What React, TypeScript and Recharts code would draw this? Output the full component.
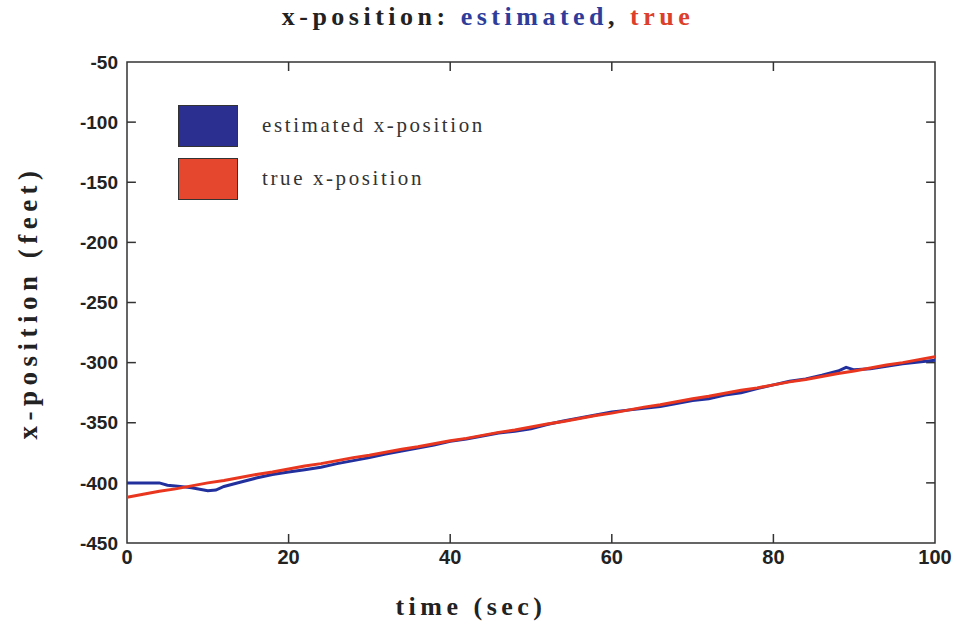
import React from 'react';
import { LineChart, Line, XAxis, YAxis, ReferenceArea, ReferenceLine } from 'recharts';

const estTimes = [0, 2, 4, 5, 6, 8, 10, 11, 12, 14, 16, 18, 20, 22, 24, 26, 28, 30, 32, 34, 36, 38, 40, 42, 44, 46, 48, 50, 52, 54, 56, 58, 60, 62, 64, 66, 68, 70, 72, 74, 76, 78, 80, 82, 84, 86, 88, 89, 90, 92, 94, 96, 98, 100];
const estValues = [-400, -400, -400, -402, -402.5, -404, -406.5, -406, -403, -399.5, -396, -393, -391, -389, -387, -384, -381.5, -379, -376, -373.5, -371, -368.5, -365.5, -363.5, -361, -358.5, -357, -355, -351.5, -348.5, -346, -343.5, -341, -339.5, -338, -336.5, -334, -331.5, -330, -327, -325, -321.5, -318.5, -315.5, -313.5, -310.5, -307, -304, -306, -305, -303, -301, -299.5, -298];

const trueTimes = [0, 2, 4, 6, 8, 10, 12, 14, 16, 18, 20, 22, 24, 26, 28, 30, 32, 34, 36, 38, 40, 42, 44, 46, 48, 50, 52, 54, 56, 58, 60, 62, 64, 66, 68, 70, 72, 74, 76, 78, 80, 82, 84, 86, 88, 90, 92, 94, 96, 98, 100];
const trueValues = [-412, -409.5, -407, -405, -402.5, -400, -398, -395.5, -393, -391, -388.5, -386, -384, -381.5, -379, -377, -374.5, -372, -370, -367.5, -365, -363, -360.5, -358, -356, -353.5, -351, -349, -346.5, -344, -342, -339.5, -337, -335, -332.5, -330, -328, -325.5, -323, -321, -318.5, -316, -314, -311.5, -309, -307, -304.5, -302, -300, -297.5, -295];

const xTicks = [0, 20, 40, 60, 80, 100];
const yTicks = [-450, -400, -350, -300, -250, -200, -150, -100, -50];

const legendItems = [
  { color: '#2b3090', label: 'estimated x-position' },
  { color: '#e4462e', label: 'true x-position' },
];

const estData = estTimes.map((t, i) => ({ t, v: estValues[i] }));
const trueData = trueTimes.map((t, i) => ({ t, v: trueValues[i] }));

const BLUE = '#22309e';
const RED = '#e8361f';
const AXIS = '#333333';

const serif = '"Liberation Serif", "DejaVu Serif", serif';
const sans = '"Liberation Sans", Arial, sans-serif';

const YLabel = (props: any) => {
  const vb = props.viewBox || {};
  const cx = 28;
  const cy = (vb.y ?? 62) + (vb.height ?? 481) / 2;
  return (
    <text x={cx} y={cy} transform={`rotate(-90 ${cx} ${cy})`} textAnchor="middle" dominantBaseline="central"
      style={{ fontFamily: serif, fontSize: 27, fontWeight: 700, fill: '#222', letterSpacing: 5.5 }}>
      x-position (feet)
    </text>
  );
};

const XLabel = (props: any) => {
  const vb = props.viewBox || {};
  const cx = 471;
  const cy = (vb.y ?? 543) + 63;
  return (
    <text x={cx} y={cy} textAnchor="middle" dominantBaseline="central"
      style={{ fontFamily: serif, fontSize: 26, fontWeight: 700, fill: '#222', letterSpacing: 4.5 }}>
      time (sec)
    </text>
  );
};

export default function App() {
  return (
    <div style={{ position: 'absolute', left: 0, top: 0, width: 956, height: 625, background: '#fff' }}>
      <div style={{ position: 'absolute', left: 0, width: 976, top: 2, textAlign: 'center', fontFamily: serif, fontSize: 26, fontWeight: 700, letterSpacing: 4.5, color: '#222', zIndex: 2 }}>
        x-position: <span style={{ color: '#2e3c9a' }}>estimated</span>, <span style={{ color: '#dc3f2a' }}>true</span>
      </div>
      <div style={{ position: 'absolute', left: 178, top: 99, fontFamily: serif, fontSize: 21, color: '#333', letterSpacing: 2.6, zIndex: 2 }}>
        {legendItems.map((e, i) => (
          <div key={i} style={{ display: 'flex', alignItems: 'center', height: 53 }}>
            <div style={{ width: 60, height: 42, background: e.color, border: '1px solid #333', boxSizing: 'border-box' }} />
            <span style={{ marginLeft: 24 }}>{e.label}</span>
          </div>
        ))}
      </div>
      <LineChart width={956} height={625} margin={{ top: 62, right: 21, bottom: 0, left: 0 }}>
        <XAxis dataKey="t" type="number" domain={[0, 100]} ticks={xTicks} allowDataOverflow
          height={82} axisLine={false} tickLine={false} tickSize={0} tickMargin={7}
          tick={{ fontFamily: sans, fontSize: 20, fontWeight: 700, fill: '#222' }}
          label={<XLabel />} />
        <YAxis type="number" domain={[-450, -50]} ticks={yTicks} allowDataOverflow
          width={127} axisLine={false} tickLine={false} tickSize={0} tickMargin={9}
          tick={{ fontFamily: sans, fontSize: 19, fontWeight: 700, fill: '#222' }}
          label={<YLabel />} />
        <ReferenceArea x1={0} x2={100} y1={-450} y2={-50} fill="none" stroke={AXIS} strokeWidth={1.5} fillOpacity={0} strokeOpacity={1} />
        {xTicks.slice(1, -1).map((t) => (
          <ReferenceLine key={`b${t}`} segment={[{ x: t, y: -450 }, { x: t, y: -442.5 }]} stroke={AXIS} strokeWidth={1.5} />
        ))}
        {xTicks.slice(1, -1).map((t) => (
          <ReferenceLine key={`t${t}`} segment={[{ x: t, y: -50 }, { x: t, y: -57.5 }]} stroke={AXIS} strokeWidth={1.5} />
        ))}
        {yTicks.slice(1, -1).map((v) => (
          <ReferenceLine key={`l${v}`} segment={[{ x: 0, y: v }, { x: 1.1, y: v }]} stroke={AXIS} strokeWidth={1.5} />
        ))}
        {yTicks.slice(1, -1).map((v) => (
          <ReferenceLine key={`r${v}`} segment={[{ x: 100, y: v }, { x: 98.9, y: v }]} stroke={AXIS} strokeWidth={1.5} />
        ))}
        <Line data={estData} dataKey="v" name="estimated x-position" type="linear" stroke={BLUE} strokeWidth={3} dot={false} isAnimationActive={false} />
        <Line data={trueData} dataKey="v" name="true x-position" type="linear" stroke={RED} strokeWidth={3} dot={false} isAnimationActive={false} />
      </LineChart>
    </div>
  );
}
